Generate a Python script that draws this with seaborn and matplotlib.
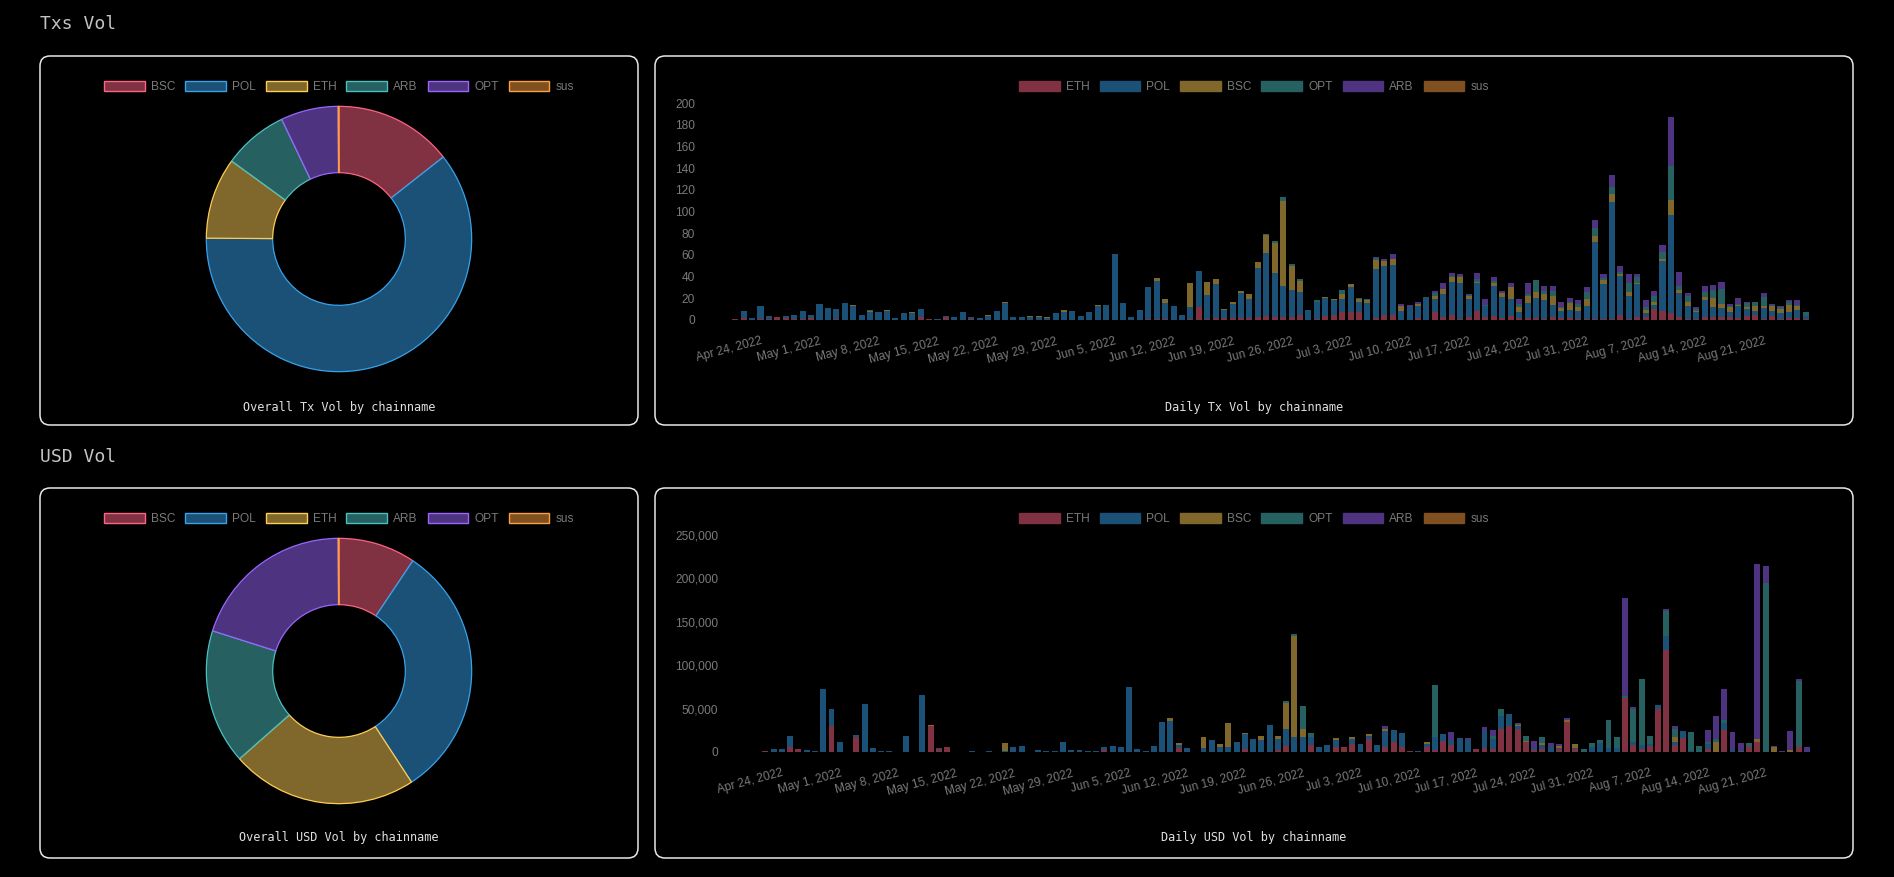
import numpy as np
import pandas as pd
import seaborn as sns
import matplotlib.pyplot as plt
from matplotlib.patches import FancyBboxPatch, Patch
from matplotlib.transforms import IdentityTransform
from matplotlib.ticker import FuncFormatter

W, H = 1894, 877

# series names (pie and bar charts use a different order)
pie_labels = ['BSC', 'POL', 'ETH', 'ARB', 'OPT', 'sus']
bar_labels = ['ETH', 'POL', 'BSC', 'OPT', 'ARB', 'sus']

# chart.js default palette, 50% alpha over black / full colour borders
fills = ['#803242', '#1b5176', '#80672b', '#266060', '#4d3380', '#805020']
edges = ['#ff6384', '#36a2eb', '#ffcd56', '#4bc0c0', '#9966ff', '#ff9f40']

pie_tx = [144, 607, 99, 79, 70, 1]
pie_usd = [94, 314, 227, 164, 200, 1]

start_date = '2022-04-21'
tick_labels = ['Apr 24, 2022', 'May 1, 2022', 'May 8, 2022', 'May 15, 2022', 'May 22, 2022',
               'May 29, 2022', 'Jun 5, 2022', 'Jun 12, 2022', 'Jun 19, 2022', 'Jun 26, 2022',
               'Jul 3, 2022', 'Jul 10, 2022', 'Jul 17, 2022', 'Jul 24, 2022', 'Jul 31, 2022',
               'Aug 7, 2022', 'Aug 14, 2022', 'Aug 21, 2022']

# daily tx counts
tx_eth = [1, 2, 0, 1, 1, 3, 2, 1, 1, 2, 0, 0, 1, 0, 0, 0,
          0, 0, 0, 0, 0, 0, 3, 1, 0, 3, 0, 0, 1, 0, 0, 0,
          0, 0, 0, 0, 0, 0, 0, 0, 0, 0, 0, 0, 0, 0, 0, 0,
          0, 1, 1, 1, 0, 0, 1, 12, 1, 2, 2, 2, 2, 2, 3, 4,
          3, 3, 3, 5, 0, 1, 4, 5, 7, 7, 7, 0, 2, 5, 5, 0,
          0, 2, 0, 7, 3, 5, 1, 3, 8, 3, 4, 2, 4, 2, 2, 2,
          1, 3, 2, 2, 1, 1, 1, 1, 1, 5, 1, 3, 3, 10, 8, 6,
          3, 1, 1, 3, 3, 3, 3, 2, 4, 5, 1, 4, 1, 2, 2, 1]
tx_pol = [0, 6, 2, 12, 3, 0, 2, 4, 7, 3, 15, 11, 9, 16, 13, 5,
          7, 7, 8, 2, 6, 6, 7, 0, 1, 1, 3, 7, 2, 2, 4, 8,
          16, 3, 3, 3, 3, 2, 6, 7, 8, 4, 7, 13, 14, 61, 16, 3,
          9, 29, 35, 15, 13, 5, 11, 33, 22, 31, 7, 13, 23, 17, 45, 58,
          40, 28, 25, 21, 9, 16, 16, 13, 12, 23, 10, 16, 45, 45, 46, 8,
          12, 11, 21, 12, 21, 30, 33, 16, 26, 10, 27, 19, 15, 5, 14, 18,
          17, 11, 6, 7, 7, 12, 71, 32, 108, 36, 21, 30, 3, 4, 46, 91,
          22, 12, 6, 15, 9, 8, 4, 11, 6, 3, 10, 4, 5, 5, 7, 3]
tx_bsc = [0, 0, 0, 0, 0, 0, 0, 0, 0, 0, 0, 0, 0, 0, 1, 0,
          1, 0, 1, 0, 0, 1, 0, 0, 0, 0, 0, 0, 0, 0, 1, 0,
          1, 0, 0, 1, 1, 1, 0, 2, 0, 0, 0, 1, 0, 0, 0, 0,
          0, 0, 3, 3, 0, 0, 22, 0, 12, 5, 1, 2, 2, 5, 5, 16,
          28, 79, 22, 10, 0, 0, 1, 1, 5, 3, 2, 2, 8, 4, 5, 5,
          0, 2, 0, 3, 5, 5, 6, 3, 1, 0, 3, 4, 11, 5, 6, 6,
          6, 8, 3, 7, 4, 6, 5, 4, 7, 1, 4, 1, 3, 3, 2, 14,
          3, 4, 1, 3, 8, 4, 5, 1, 2, 5, 2, 5, 4, 7, 4, 0]
tx_opt = [0, 0, 0, 0, 0, 0, 0, 0, 0, 0, 0, 0, 0, 0, 0, 0,
          1, 0, 0, 0, 0, 0, 0, 0, 0, 0, 0, 0, 0, 0, 0, 0,
          0, 0, 0, 0, 0, 0, 0, 0, 0, 0, 0, 0, 0, 0, 0, 0,
          0, 0, 0, 0, 0, 0, 0, 0, 0, 0, 0, 0, 0, 0, 0, 1,
          2, 3, 2, 2, 0, 1, 0, 0, 4, 0, 1, 1, 2, 0, 0, 0,
          0, 0, 0, 3, 0, 1, 1, 1, 3, 1, 2, 0, 0, 3, 2, 11,
          3, 5, 1, 1, 3, 7, 8, 2, 7, 2, 8, 6, 3, 5, 7, 31,
          3, 5, 2, 5, 8, 14, 1, 1, 4, 4, 8, 1, 2, 3, 1, 3]
tx_arb = [0, 0, 0, 0, 0, 0, 0, 0, 0, 0, 0, 0, 0, 0, 0, 0,
          0, 0, 0, 0, 0, 0, 0, 0, 0, 0, 0, 0, 0, 0, 0, 0,
          0, 0, 0, 0, 0, 0, 0, 0, 0, 0, 0, 0, 0, 0, 0, 0,
          0, 0, 0, 0, 0, 0, 0, 0, 0, 0, 0, 0, 0, 0, 0, 0,
          0, 0, 0, 0, 0, 0, 0, 0, 0, 0, 0, 0, 1, 2, 5, 2,
          2, 2, 0, 2, 5, 2, 1, 1, 5, 5, 4, 2, 4, 4, 10, 0,
          4, 4, 5, 3, 3, 4, 7, 3, 11, 6, 8, 2, 6, 5, 6, 45,
          13, 3, 2, 5, 4, 6, 2, 5, 1, 0, 4, 1, 1, 1, 4, 0]
tx_sus = [0, 0, 0, 0, 0, 0, 0, 0, 0, 0, 0, 0, 0, 0, 0, 0,
          0, 0, 0, 0, 0, 0, 0, 0, 0, 0, 0, 0, 0, 0, 0, 0,
          0, 0, 0, 0, 0, 0, 0, 0, 0, 0, 0, 0, 0, 0, 0, 0,
          0, 0, 0, 0, 0, 0, 0, 0, 0, 0, 0, 0, 0, 0, 0, 0,
          0, 0, 0, 0, 0, 0, 0, 0, 0, 0, 0, 0, 0, 0, 0, 0,
          0, 0, 0, 0, 0, 0, 0, 0, 0, 0, 0, 0, 0, 0, 0, 0,
          0, 0, 0, 0, 0, 0, 0, 0, 0, 0, 0, 0, 0, 0, 0, 0,
          0, 0, 0, 0, 0, 0, 0, 0, 0, 0, 0, 0, 0, 0, 0, 0]

# daily USD volume, thousands
usd_eth = [0, 1.5, 0, 0, 6, 3, 0, 0, 0, 30, 0, 0, 17, 0, 0, 0,
           0, 0, 0, 0, 0, 30, 3, 5.5, 0, 0, 0, 0, 0, 0, 0, 0,
           0, 0, 0, 0, 0, 0, 0, 0, 0, 0, 2, 0, 0, 0, 0, 0,
           0, 0, 0, 5, 0, 0, 0, 0, 0, 0, 0, 3, 0, 0, 0, 2,
           7, 0, 0, 8, 0, 0, 6, 6, 9, 0, 15, 0, 6, 11, 6, 1,
           0, 6, 2, 13, 8, 0, 0, 3, 5, 3, 27, 30, 27, 11, 2, 3,
           0, 3, 35, 3, 0, 0, 0, 0, 0, 62, 8, 3, 7, 50, 118, 8,
           16, 0, 0, 3, 0, 25, 0, 0, 6, 12, 0, 0, 0, 0, 6, 0]
usd_pol = [0, 0, 3, 3, 13, 0, 2, 1, 73, 20, 11, 0.3, 3, 55, 5, 1,
           1.5, 0.5, 19, 0, 66, 0, 2, 0, 0, 0, 0.8, 0, 1.5, 0.5, 1, 5.5,
           6.5, 0, 2, 1, 1, 12, 2.5, 2, 1, 1.5, 4, 7, 5.5, 75, 4, 1,
           7, 34, 36, 3, 4.5, 0.5, 5, 14, 6, 6, 12, 18, 15, 14, 31, 13,
           19, 17, 17, 9, 6, 8, 8, 0, 6, 9, 4, 8, 18, 14, 16, 0,
           1.5, 3, 15, 8, 6, 16, 14, 1, 19, 12, 15, 14, 3, 0, 3, 5,
           6, 2, 0, 2, 0, 6, 10, 5, 5, 0, 3, 5, 2, 4, 16, 4,
           8, 1, 0, 6, 0, 8, 2, 0, 0, 0, 0, 0, 0, 0, 0, 0]
usd_bsc = [0, 0, 0, 0, 0, 0, 0, 0, 0, 0, 0, 0, 0, 0, 0, 0,
           0, 0, 0, 0, 0, 1, 0, 0, 0, 0, 0, 0, 0, 0, 9, 0,
           0, 0, 0, 0, 0, 0, 0, 0, 0, 0, 0, 0, 0, 0, 0, 0,
           0, 0, 3, 2, 0, 0, 12, 0, 3, 27, 0, 1, 0, 4, 0, 4,
           30, 117, 10, 0, 0, 0, 2, 0, 2, 0, 2, 0, 2, 0, 0, 0,
           0, 2, 0, 0, 0, 0, 0, 0, 0, 0, 0, 0, 1, 2, 0, 2,
           0, 2, 2, 4, 0, 0, 0, 0, 0, 0, 0, 0, 0, 0, 0, 5,
           0, 0, 0, 0, 12, 0, 0, 0, 0, 3, 0, 6, 0, 2, 0, 0]
usd_opt = [0, 0, 0, 0, 0, 0, 0, 0, 0, 0, 0, 0, 0, 0, 0, 0,
           0, 0, 0, 0, 0, 0, 0, 0, 0, 0, 0, 0, 0, 0, 0, 0,
           0, 0, 0, 0, 0, 0, 0, 0, 0, 0, 0, 0, 0, 0, 0, 0,
           0, 0, 0, 0, 0, 0, 0, 0, 0, 0, 0, 0, 0, 0, 0, 0,
           3, 2, 26, 5, 0, 0, 0, 0, 0, 0, 0, 0, 0, 0, 0, 0,
           0, 1, 60, 0, 0, 0, 0, 0, 0, 4, 8, 0, 1, 5, 0, 7,
           0, 0, 0, 0, 3, 4, 4, 32, 12, 2, 39, 76, 9, 0, 28, 10,
           0, 22, 7, 3, 3, 4, 0, 1, 4, 0, 195, 0, 0, 0, 76, 0]
usd_arb = [0, 0, 0, 0, 0, 0, 0, 0, 0, 0, 0, 0, 0, 0, 0, 0,
           0, 0, 0, 0, 0, 0, 0, 0, 0, 0, 0, 0, 0, 0, 0, 0,
           0, 0, 0, 0, 0, 0, 0, 0, 0, 0, 0, 0, 0, 0, 0, 0,
           0, 0, 0, 0, 0, 0, 0, 0, 0, 0, 0, 0, 0, 0, 0, 0,
           0, 0, 0, 0, 0, 0, 0, 0, 0, 0, 0, 0, 4, 0, 0, 0,
           0, 0, 0, 0, 9, 0, 2, 0, 5, 6, 0, 0, 1, 0, 8, 0,
           4, 2, 2, 0, 0, 0, 0, 0, 0, 113, 2, 0, 0, 0, 3, 3,
           0, 0, 0, 13, 27, 36, 21, 9, 0, 202, 19, 1, 1, 22, 2, 6]
usd_sus = tx_sus


def px_rect(x0, y0, x1, y1):
    return [x0 / W, 1 - y1 / H, (x1 - x0) / W, (y1 - y0) / H]


def panel(fig, x0, y0, x1, y1):
    box = FancyBboxPatch((x0, H - y1), x1 - x0, y1 - y0,
                         boxstyle='round,pad=0,rounding_size=10',
                         transform=IdentityTransform(), fill=False,
                         edgecolor='#e8e8e8', linewidth=1.1)
    fig.add_artist(box)


def donut(fig, cx, cy, r, values):
    ax = fig.add_axes(px_rect(cx - r, cy - r, cx + r, cy + r))
    wedges, _ = ax.pie(values, colors=fills, startangle=90, counterclock=False,
                       wedgeprops=dict(width=0.5, linewidth=0.9))
    for w, e in zip(wedges, edges):
        w.set_edgecolor(e)
    ax.set_xlim(-1.01, 1.01)
    ax.set_ylim(-1.01, 1.01)
    ax.set_aspect('equal')
    ax.axis('off')
    return ax


def legend_row(fig, cx, cy, labels, bordered):
    handles = [Patch(facecolor=f, edgecolor=(e if bordered else f), linewidth=1)
               for f, e in zip(fills, edges)]
    fig.legend(handles, labels, loc='center', bbox_to_anchor=(cx / W, 1 - cy / H),
               ncol=6, frameon=False, fontsize=8.6, handlelength=3.4, handleheight=1.0,
               handletextpad=0.5, columnspacing=0.85, labelcolor='#7a7a7a',
               borderpad=0, borderaxespad=0)


def stacked_bars(fig, rect, layers, ymax, ystep, ypad, fmt=None):
    ax = fig.add_axes(px_rect(*rect))
    cum = np.cumsum(np.array(layers, dtype=float), axis=0)
    idx = np.arange(cum.shape[1])
    # draw from the top layer down so lower layers cover the stack base
    for k in range(len(layers) - 1, -1, -1):
        sns.barplot(x=idx, y=cum[k], color=fills[k], width=0.72, saturation=1,
                    linewidth=0, errorbar=None, ax=ax)
    ax.set_facecolor('black')
    ax.set_xlim(-0.5, len(idx) - 0.5)
    ax.set_ylim(0, ymax)
    ax.set_yticks(np.arange(0, ymax + 1, ystep))
    if fmt:
        ax.yaxis.set_major_formatter(FuncFormatter(fmt))
    days = pd.date_range(start_date, periods=len(idx))
    tick_pos = [days.get_loc(pd.Timestamp(t)) for t in tick_labels]
    ax.set_xticks(tick_pos)
    ax.set_xticklabels(tick_labels, rotation=15, ha='right', va='top',
                       rotation_mode='anchor')
    ax.tick_params(axis='x', length=0, pad=11, labelsize=8.6, labelcolor='#7a7a7a')
    ax.tick_params(axis='y', length=0, pad=ypad, labelsize=8.6, labelcolor='#7a7a7a')
    for lab in ax.get_yticklabels():
        lab.set_ha('right')
    ax.set_xlabel('')
    ax.set_ylabel('')
    ax.grid(False)
    sns.despine(ax=ax, left=True, bottom=True)
    return ax


sns.set_theme(style='dark', rc={'axes.facecolor': 'black', 'figure.facecolor': 'black'})
plt.rcParams['font.family'] = ['Liberation Sans', 'DejaVu Sans']

fig = plt.figure(figsize=(W / 100, H / 100), dpi=100, facecolor='black')

mono = 'DejaVu Sans Mono'
fig.text(40 / W, 1 - 24 / H, 'Txs Vol', family=mono, size=13, color='#c4c4c4', ha='left', va='center')
fig.text(40 / W, 1 - 457 / H, 'USD Vol', family=mono, size=13, color='#c4c4c4', ha='left', va='center')

panel(fig, 40, 56, 638, 425)
panel(fig, 655, 56, 1853, 425)
panel(fig, 40, 488, 638, 858)
panel(fig, 655, 488, 1853, 858)

# pies
donut(fig, 339, 239, 134, pie_tx)
donut(fig, 339, 671, 134, pie_usd)
legend_row(fig, 339, 87, pie_labels, True)
legend_row(fig, 339, 519, pie_labels, True)

# daily stacked bars
stacked_bars(fig, (731, 103, 1810, 320),
             [tx_eth, tx_pol, tx_bsc, tx_opt, tx_arb, tx_sus], 200, 20, 26)
usd_layers = [np.array(s, dtype=float) * 1000 for s in
              [usd_eth, usd_pol, usd_bsc, usd_opt, usd_arb, usd_sus]]
stacked_bars(fig, (753, 535, 1811, 752), usd_layers, 250000, 50000, 25,
             fmt=lambda v, _: f'{int(v):,}')
legend_row(fig, 1254, 87, bar_labels, False)
legend_row(fig, 1254, 519, bar_labels, False)

sub = dict(family=mono, size=8.6, color='#e0e0e0', ha='center', va='center')
fig.text(339 / W, 1 - 407 / H, 'Overall Tx Vol by chainname', **sub)
fig.text(1254 / W, 1 - 407 / H, 'Daily Tx Vol by chainname', **sub)
fig.text(339 / W, 1 - 838 / H, 'Overall USD Vol by chainname', **sub)
fig.text(1254 / W, 1 - 838 / H, 'Daily USD Vol by chainname', **sub)

fig.savefig('out.png', dpi=100, facecolor='black')
